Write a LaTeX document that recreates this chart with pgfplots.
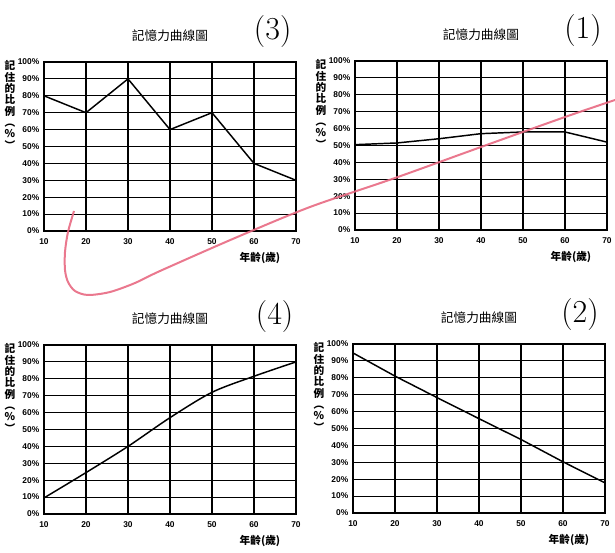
\documentclass[border=0pt]{standalone}
\usepackage{fontspec}
\newfontfamily\cjk{Noto Sans CJK TC}
\newfontfamily\sans{Liberation Sans}
\usepackage{pgfplots}
\pgfplotsset{compat=1.18}
\definecolor{pen}{RGB}{232,105,130}

\pgfplotsset{memchart/.style={
  scale only axis, width=189pt, height=126.75pt, anchor=south west,
  xmin=10, xmax=70, ymin=0, ymax=100, clip=false,
  xtick={10,20,...,70}, ytick={0,10,...,100},
  yticklabel={\pgfmathprintnumber{\tick}\%},
  grid=major, grid style={black, line width=0.8pt},
  axis line style={black, line width=1pt},
  major tick length=0pt,
  /pgf/number format/assume math mode=true,
  tick label style={font=\sans\bfseries\fontsize{6.3}{6.3}\selectfont},
  xticklabel style={yshift=-2pt},
  title={記憶力曲線圖},
  title style={font=\cjk\fontsize{9.5}{10}\selectfont, at={(0.5,1)}, anchor=center, yshift=14pt},
  xlabel={年齡(歲)},
  xlabel style={font=\cjk\bfseries\fontsize{8}{8}\selectfont, at={(1,0)}, anchor=center, xshift=-27pt, yshift=-20pt},
  ylabel={記\\住\\的\\比\\例\\︵\\\%\\︶},
  ylabel style={rotate=-90, align=center, font=\cjk\bfseries\fontsize{8}{8.5}\selectfont, at={(0,1)}, anchor=north, xshift=-25.5pt, yshift=4.5pt},
}}
\tikzset{curve/.style={black, line width=1.1pt, no markers}}

\begin{document}
\begin{tikzpicture}
\useasboundingbox (0,0) rectangle (461.25pt,414.75pt);

% (3) top left
\begin{axis}[memchart, at={(33pt,241.5pt)}]
\addplot[curve] coordinates {(10,80) (20,70) (30,90) (40,60) (50,70) (60,40) (70,30)};
\node[font=\fontsize{24}{24}\selectfont] at (rel axis cs:1,1) [xshift=-17.5pt, yshift=22.5pt] {(3)};
\end{axis}

% (1) top right
\begin{axis}[memchart, at={(266.25pt,242.25pt)}]
\addplot[curve] coordinates {(10,50.5) (20,51.5) (30,54) (40,57) (50,58) (60,58) (70,52)};
\node[font=\fontsize{24}{24}\selectfont] at (rel axis cs:1,1) [xshift=-18pt, yshift=22.5pt] {(1)};
\end{axis}

% (4) bottom left
\begin{axis}[memchart, at={(33pt,29.25pt)}]
\addplot[curve, smooth] coordinates {(10,9.5) (20,24.5) (30,40) (40,57) (50,72) (60,81.5) (70,90)};
\node[font=\fontsize{24}{24}\selectfont] at (rel axis cs:1,1) [xshift=-16pt, yshift=21pt] {(4)};
\end{axis}

% (2) bottom right
\begin{axis}[memchart, at={(264.75pt,30pt)}]
\addplot[curve] coordinates {(10,94.7) (20,81) (30,68.3) (40,55.8) (50,43.5) (60,30.3) (70,17.8)};
\node[font=\fontsize{24}{24}\selectfont] at (rel axis cs:1,1) [xshift=-18.75pt, yshift=21.75pt] {(2)};
\end{axis}

% hand-drawn pen stroke over the page
\begin{axis}[scale only axis, width=461.25pt, height=414.75pt, at={(0,0)}, anchor=south west,
  xmin=0, xmax=615, ymin=0, ymax=553, y dir=reverse, hide axis]
\addplot[pen, line width=1.5pt, smooth, opacity=0.9] coordinates {
  (74,211) (68,232) (65,252) (65,270) (68,282) (75,291) (88,295) (110,292)
  (135,283) (160,271) (235,238) (310,207) (395,178) (481,147) (565,117) (615,100)};
\end{axis}
\end{tikzpicture}
\end{document}
